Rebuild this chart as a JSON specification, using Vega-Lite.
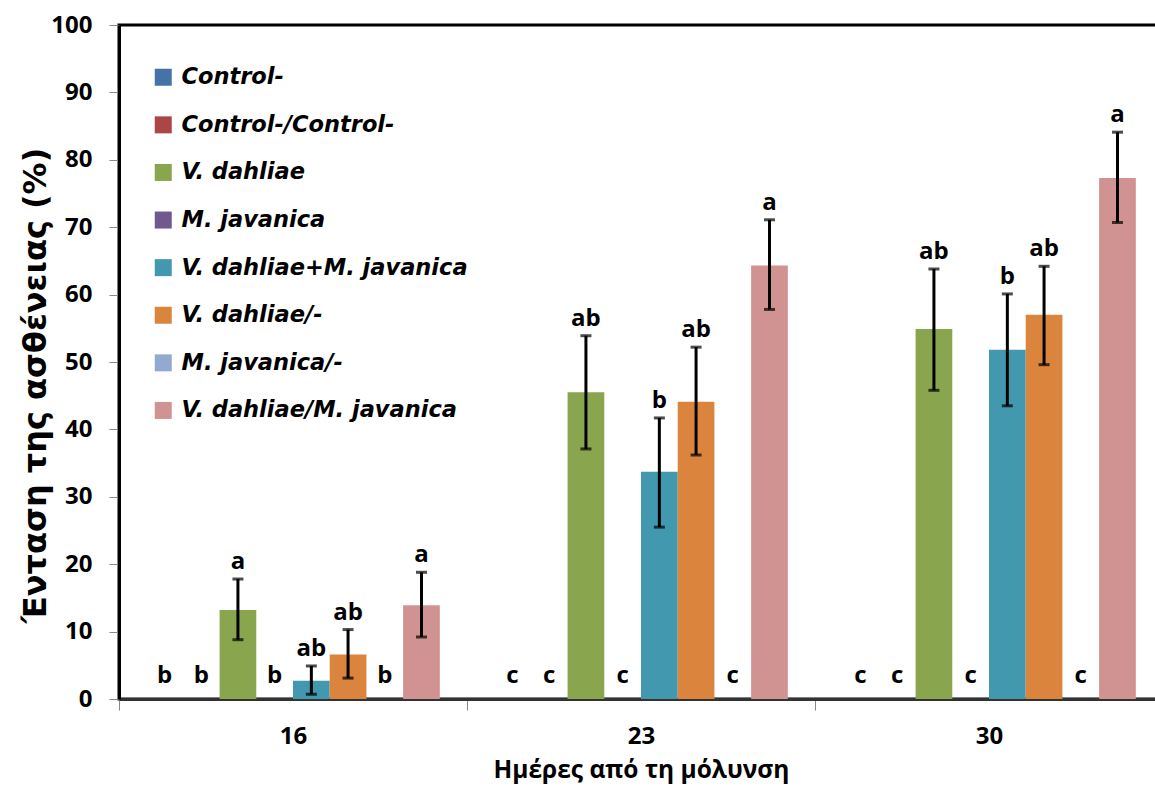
{
  "$schema": "https://vega.github.io/schema/vega-lite/v6.json",
  "width": 1044,
  "height": 674,
  "autosize": {"type": "none"},
  "padding": {"left": 119, "top": 25, "right": -8, "bottom": 93},
  "background": "white",
  "config": {
    "font": "Open Sans",
    "view": {"stroke": "black", "strokeWidth": 3}
  },
  "data": {
    "values": [
      {"day": "16", "series": "Control-", "value": 0, "lo": null, "hi": null, "letter": "b"},
      {"day": "16", "series": "Control-/Control-", "value": 0, "lo": null, "hi": null, "letter": "b"},
      {"day": "16", "series": "V. dahliae", "value": 13.2, "lo": 8.8, "hi": 17.8, "letter": "a"},
      {"day": "16", "series": "M. javanica", "value": 0, "lo": null, "hi": null, "letter": "b"},
      {"day": "16", "series": "V. dahliae+M. javanica", "value": 2.7, "lo": 0.7, "hi": 4.9, "letter": "ab"},
      {"day": "16", "series": "V. dahliae/-", "value": 6.6, "lo": 3.1, "hi": 10.3, "letter": "ab"},
      {"day": "16", "series": "M. javanica/-", "value": 0, "lo": null, "hi": null, "letter": "b"},
      {"day": "16", "series": "V. dahliae/M. javanica", "value": 13.9, "lo": 9.2, "hi": 18.8, "letter": "a"},
      {"day": "23", "series": "Control-", "value": 0, "lo": null, "hi": null, "letter": "c"},
      {"day": "23", "series": "Control-/Control-", "value": 0, "lo": null, "hi": null, "letter": "c"},
      {"day": "23", "series": "V. dahliae", "value": 45.5, "lo": 37.1, "hi": 53.9, "letter": "ab"},
      {"day": "23", "series": "M. javanica", "value": 0, "lo": null, "hi": null, "letter": "c"},
      {"day": "23", "series": "V. dahliae+M. javanica", "value": 33.7, "lo": 25.5, "hi": 41.7, "letter": "b"},
      {"day": "23", "series": "V. dahliae/-", "value": 44.1, "lo": 36.2, "hi": 52.2, "letter": "ab"},
      {"day": "23", "series": "M. javanica/-", "value": 0, "lo": null, "hi": null, "letter": "c"},
      {"day": "23", "series": "V. dahliae/M. javanica", "value": 64.3, "lo": 57.8, "hi": 71.1, "letter": "a"},
      {"day": "30", "series": "Control-", "value": 0, "lo": null, "hi": null, "letter": "c"},
      {"day": "30", "series": "Control-/Control-", "value": 0, "lo": null, "hi": null, "letter": "c"},
      {"day": "30", "series": "V. dahliae", "value": 54.9, "lo": 45.8, "hi": 63.8, "letter": "ab"},
      {"day": "30", "series": "M. javanica", "value": 0, "lo": null, "hi": null, "letter": "c"},
      {"day": "30", "series": "V. dahliae+M. javanica", "value": 51.8, "lo": 43.5, "hi": 60.1, "letter": "b"},
      {"day": "30", "series": "V. dahliae/-", "value": 57.0, "lo": 49.6, "hi": 64.2, "letter": "ab"},
      {"day": "30", "series": "M. javanica/-", "value": 0, "lo": null, "hi": null, "letter": "c"},
      {"day": "30", "series": "V. dahliae/M. javanica", "value": 77.3, "lo": 70.7, "hi": 84.1, "letter": "a"}
    ]
  },
  "encoding": {
    "x": {
      "field": "day",
      "type": "nominal",
      "sort": ["16", "23", "30"],
      "scale": {"paddingInner": 0, "paddingOuter": 0},
      "axis": {
        "title": "Ημέρες από τη μόλυνση",
        "titleFont": "Open Sans",
        "titleFontSize": 24.5,
        "titleFontWeight": "bold",
        "titleColor": "black",
        "titlePadding": 10,
        "labelAngle": 0,
        "labelFont": "Open Sans",
        "labelFontSize": 24,
        "labelFontWeight": "bold",
        "labelColor": "black",
        "labelPadding": 14,
        "tickBand": "extent",
        "tickSize": 11,
        "tickColor": "#888888",
        "tickWidth": 1,
        "domainColor": "#333333",
        "domainWidth": 3,
        "grid": false
      }
    },
    "xOffset": {
      "field": "series",
      "type": "nominal",
      "sort": ["Control-", "Control-/Control-", "V. dahliae", "M. javanica", "V. dahliae+M. javanica", "V. dahliae/-", "M. javanica/-", "V. dahliae/M. javanica"],
      "scale": {"paddingInner": 0, "paddingOuter": 0.74}
    }
  },
  "layer": [
    {
      "mark": {"type": "bar"},
      "encoding": {
        "y": {
          "field": "value",
          "type": "quantitative",
          "scale": {"domain": [0, 100], "nice": false},
          "axis": {
            "title": "Ένταση της ασθένειας (%)",
            "titleFont": "DejaVu Sans",
            "titleFontSize": 32,
            "titleFontWeight": "bold",
            "titleColor": "black",
            "titlePadding": -2,
            "titleY": 360,
            "values": [0, 10, 20, 30, 40, 50, 60, 70, 80, 90, 100],
            "labelFont": "Open Sans",
            "labelFontSize": 24,
            "labelFontWeight": "bold",
            "labelColor": "black",
            "labelPadding": 17,
            "tickSize": 10,
            "tickColor": "#888888",
            "tickWidth": 1,
            "domainColor": "black",
            "domainWidth": 3,
            "grid": false
          }
        },
        "color": {
          "field": "series",
          "type": "nominal",
          "scale": {
            "domain": ["Control-", "Control-/Control-", "V. dahliae", "M. javanica", "V. dahliae+M. javanica", "V. dahliae/-", "M. javanica/-", "V. dahliae/M. javanica"],
            "range": ["#4572A7", "#AA4643", "#89A54E", "#71588F", "#4198AF", "#DB843D", "#93A9CF", "#D19392"]
          },
          "legend": {
            "orient": "none",
            "legendX": 33,
            "legendY": 41,
            "title": null,
            "padding": 0,
            "symbolType": "square",
            "symbolSize": 289,
            "symbolStrokeWidth": 0,
            "labelFont": "DejaVu Sans",
            "labelFontSize": 22.5,
            "labelFontStyle": "italic",
            "labelFontWeight": "bold",
            "labelColor": "black",
            "labelOffset": 7,
            "labelLimit": 600,
            "rowPadding": 24.6
          }
        }
      }
    },
    {
      "transform": [{"filter": "datum.hi != null"}],
      "mark": {"type": "rule", "color": "black", "strokeWidth": 3},
      "encoding": {
        "y": {"field": "lo", "type": "quantitative"},
        "y2": {"field": "hi"}
      }
    },
    {
      "transform": [{"filter": "datum.hi != null"}],
      "mark": {"type": "tick", "color": "black", "thickness": 3, "size": 11, "orient": "horizontal"},
      "encoding": {
        "y": {"field": "hi", "type": "quantitative"}
      }
    },
    {
      "transform": [{"filter": "datum.hi != null"}],
      "mark": {"type": "tick", "color": "black", "thickness": 3, "size": 11, "orient": "horizontal"},
      "encoding": {
        "y": {"field": "lo", "type": "quantitative"}
      }
    },
    {
      "transform": [{"filter": "datum.hi != null"}],
      "mark": {"type": "text", "font": "Open Sans", "fontSize": 24, "fontWeight": "bold", "color": "black", "baseline": "alphabetic", "dy": -10},
      "encoding": {
        "y": {"field": "hi", "type": "quantitative"},
        "text": {"field": "letter"}
      }
    },
    {
      "transform": [{"filter": "datum.hi == null"}],
      "mark": {"type": "text", "font": "Open Sans", "fontSize": 24, "fontWeight": "bold", "color": "black", "baseline": "alphabetic", "dy": -16},
      "encoding": {
        "y": {"field": "value", "type": "quantitative"},
        "text": {"field": "letter"}
      }
    }
  ]
}
